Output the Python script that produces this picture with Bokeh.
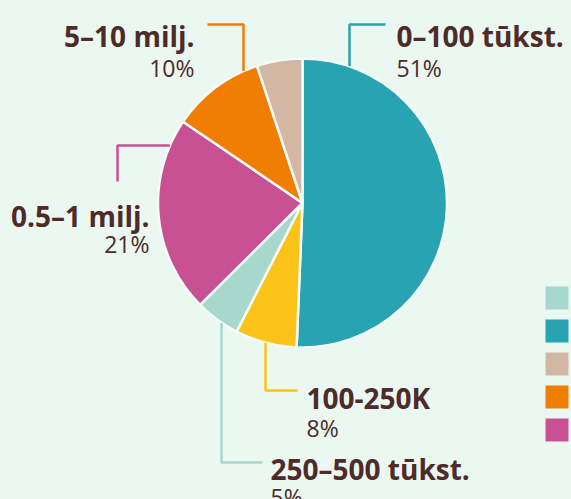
import math
from bokeh.plotting import figure
from bokeh.models import Range1d
from bokeh.core.properties import value
from bokeh.embed import file_html
from bokeh.resources import INLINE

# ---- data (clockwise from 12 o'clock) ----
categories = ["0–100 tūkst.", "100-250K", "250–500 tūkst.", "0.5–1 milj.", "5–10 milj.", "1–5 milj."]
shares = [50.7, 6.9, 5.0, 22.0, 10.4, 5.1]
pct_labels = ["51%", "8%", "5%", "21%", "10%", ""]
colors = ["#27A3B2", "#FBC318", "#A7D7CD", "#C85193", "#F07E00", "#D4B6A5"]

# legend order (labels fall outside the visible window)
legend_order = ["250–500 tūkst.", "0–100 tūkst.", "1–5 milj.", "5–10 milj.", "0.5–1 milj."]

BG = "#EBF7F1"
TXT = "#4E2A28"
FONT = "Open Sans"

W, H = 571, 499
p = figure(width=W, height=H, x_range=Range1d(0, W), y_range=Range1d(0, H),
           output_backend="svg", toolbar_location=None, min_border=0,
           x_axis_location=None, y_axis_location=None,
           background_fill_color=BG, border_fill_color=BG, outline_line_color=None)
p.grid.visible = False

# window-pixel -> data helpers
def X(wx):
    return wx
def Y(wy):
    return H - wy

cx, cy, R = 302, 202.5, 144.5

total = sum(shares)
starts, ends = [], []
acc = 0.0
for s in shares:
    a0 = math.pi / 2 - acc / total * 2 * math.pi
    acc += s
    a1 = math.pi / 2 - acc / total * 2 * math.pi
    starts.append(a0)
    ends.append(a1)

p.wedge(x=X(cx), y=Y(cy), radius=R, start_angle=starts, end_angle=ends,
        direction="clock", fill_color=colors, line_color="#F4FBF8", line_width=2.5)

def edge_y(wx, below):
    d = math.sqrt(R * R - (wx - cx) ** 2)
    return cy + d if below else cy - d

def edge_x(wy):
    d = math.sqrt(R * R - (wy - cy) ** 2)
    return cx - d

# leader lines (window coords)
leaders = [
    ([349, 349, 385], [edge_y(349, False), 24, 24], colors[0]),
    ([265, 265, 297], [edge_y(265, True), 390, 390], colors[1]),
    ([221, 221, 262], [edge_y(221, True), 462, 462], colors[2]),
    ([edge_x(145), 117, 117], [145, 145, 181], colors[3]),
    ([243, 243, 207], [edge_y(243, False), 24, 24], colors[4]),
]
for xs, ys, c in leaders:
    p.line([X(v) for v in xs], [Y(v) for v in ys], line_color=c, line_width=2.5)

# labels: (index, x, name baseline, pct baseline, align)
label_pos = [
    (0, 396, 35, 67, "left"),
    (1, 306, 397, 427, "left"),
    (2, 270, 468, 496, "left"),
    (3, 149, 215, 243, "right"),
    (4, 194, 35, 67, "right"),
]
for i, lx, by1, by2, al in label_pos:
    p.text(x=[X(lx)], y=[Y(by1)], text=[categories[i]], text_font=value(FONT),
           text_font_style="bold", text_font_size="28px", text_color=TXT,
           text_align=al, text_baseline="alphabetic")
    p.text(x=[X(lx)], y=[Y(by2)], text=[pct_labels[i]], text_font=value(FONT),
           text_font_style="normal", text_font_size="23px", text_color=TXT,
           text_align=al, text_baseline="alphabetic")

# legend swatches
leg_colors = [colors[categories.index(n)] for n in legend_order]
leg_y = [297.5 + 33 * k for k in range(len(legend_order))]
p.rect(x=[X(556.5)] * len(leg_colors), y=[Y(v) for v in leg_y], width=23, height=23,
       fill_color=leg_colors, line_color=None)

tmpl = "{% block preamble %}<style>html, body {background:" + BG + ";}</style>{% endblock %}"
open("out.html", "w").write(file_html(p, INLINE, template=tmpl))
